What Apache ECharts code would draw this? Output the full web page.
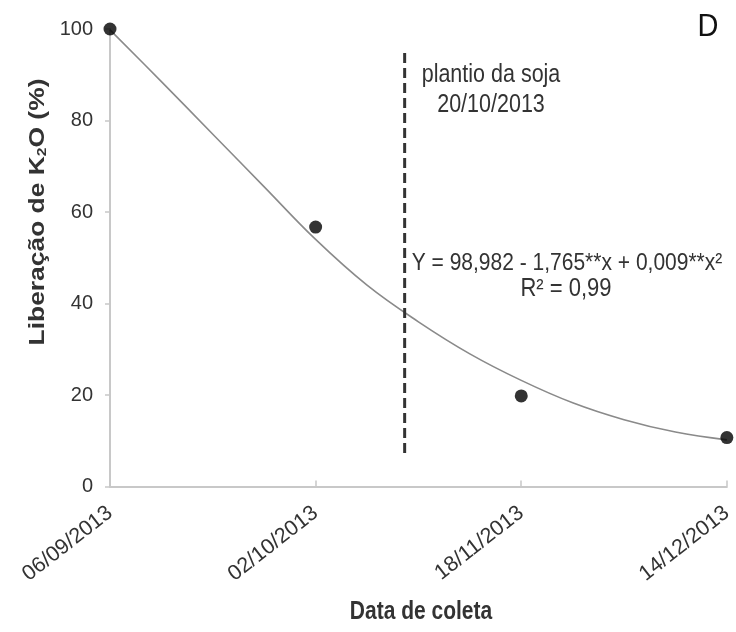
<!DOCTYPE html>
<html>
<head>
<meta charset="utf-8">
<script src="https://cdn.jsdelivr.net/npm/echarts@6/dist/echarts.min.js"></script>
<style>html,body{margin:0;padding:0;background:#fff;}#c{width:736px;height:632px;}</style>
</head>
<body>
<div id="c"></div>
<script>
// categories (collection dates), placed at evenly spaced positions 0..3
var dates = ['06/09/2013', '02/10/2013', '18/11/2013', '14/12/2013'];
var datePos = [0, 1, 2, 3];
// observed K2O release (%)
var obsValues = [100, 56.7, 19.8, 10.7];
// fitted curve (position, value)
var curvePos = [0, 0.25, 0.5, 0.75, 1, 1.25, 1.5, 1.75, 2, 2.25, 2.5, 2.75, 3];
var curveVal = [99.8, 88.5, 77, 65.5, 54, 44, 36, 29, 23.2, 18.3, 14.6, 11.9, 10.2];
// soybean planting marker (20/10/2013)
var plantingPos = 1.433;
var plantingRange = [7.3, 95];
// y ticks
var yMin = 0, yMax = 100, yStep = 20;

var FONT = '"Liberation Sans", Arial, sans-serif';
var chart = echarts.init(document.getElementById('c'), null, {renderer: 'canvas'});

var obsData = datePos.map(function (p, i) { return [p, obsValues[i]]; });
var curveData = curvePos.map(function (p, i) { return [p, curveVal[i]]; });
var plantData = plantingRange.map(function (v) { return [plantingPos, v]; });

chart.setOption({
  animation: false,
  backgroundColor: '#fff',
  grid: {left: 110, right: 6, top: 29, bottom: 145.5, containLabel: false},
  xAxis: {
    type: 'value', min: 0, max: 3, interval: 1,
    axisLine: {show: true, lineStyle: {color: '#c8c8c8', width: 2}},
    axisTick: {show: true, inside: true, length: 6, lineStyle: {color: '#c8c8c8', width: 1.5}},
    splitLine: {show: false},
    axisLabel: {
      rotate: 38, margin: 24, fontSize: 21.5, fontFamily: FONT, color: '#333',
      formatter: function (v) { var i = datePos.indexOf(v); return i >= 0 ? dates[i] : ''; }
    }
  },
  yAxis: {
    type: 'value', min: yMin, max: yMax, interval: yStep,
    axisLine: {show: true, lineStyle: {color: '#c8c8c8', width: 2}},
    axisTick: {show: true, length: 5, lineStyle: {color: '#c8c8c8', width: 1.5}},
    splitLine: {show: false},
    axisLabel: {margin: 17, fontSize: 20, fontFamily: FONT, color: '#333'}
  },
  series: [
    {
      type: 'line', data: curveData, smooth: 0.4, showSymbol: false, symbol: 'none',
      lineStyle: {color: '#8a8a8a', width: 1.6}, z: 2
    },
    {
      type: 'line', data: plantData, showSymbol: false, symbol: 'none',
      lineStyle: {color: '#333', width: 3, type: [10, 5]}, z: 3
    },
    {
      type: 'scatter', data: obsData, symbol: 'circle', symbolSize: 13, clip: false,
      itemStyle: {color: '#000'}, z: 5
    }
  ],
  graphic: [
    {type: 'text', x: 708, y: 27, scaleY: 1.1, style: {text: 'D', fontSize: 29, fontFamily: FONT, fill: '#111', textAlign: 'center', textVerticalAlign: 'middle'}},
    {type: 'text', x: 491, y: 75, scaleY: 1.2, style: {text: 'plantio da soja', fontSize: 21.5, fontFamily: FONT, fill: '#333', textAlign: 'center', textVerticalAlign: 'middle'}},
    {type: 'text', x: 491, y: 105, scaleY: 1.2, style: {text: '20/10/2013', fontSize: 21.5, fontFamily: FONT, fill: '#333', textAlign: 'center', textVerticalAlign: 'middle'}},
    {type: 'text', x: 567, y: 263, scaleY: 1.15, style: {text: 'Y = 98,982 - 1,765**x + 0,009**x²', fontSize: 21, fontFamily: FONT, fill: '#333', textAlign: 'center', textVerticalAlign: 'middle'}},
    {type: 'text', x: 566, y: 289, scaleY: 1.15, style: {text: 'R² = 0,99', fontSize: 22, fontFamily: FONT, fill: '#333', textAlign: 'center', textVerticalAlign: 'middle'}},
    {type: 'text', x: 38, y: 212, rotation: Math.PI / 2, scaleX: 1.2,
      style: {text: 'Liberação de K{sub|2}O (%)', fontSize: 22, fontWeight: 'bold', fontFamily: FONT, fill: '#333',
        textAlign: 'center', textVerticalAlign: 'middle',
        rich: {sub: {fontSize: 13, fontWeight: 'bold', fontFamily: FONT, fill: '#333', padding: [9, 0, 0, 0]}}}},
    {type: 'text', x: 421, y: 612, scaleY: 1.2, style: {text: 'Data de coleta', fontSize: 21, fontWeight: 'bold', fontFamily: FONT, fill: '#333', textAlign: 'center', textVerticalAlign: 'middle'}}
  ]
});
</script>
</body>
</html>
